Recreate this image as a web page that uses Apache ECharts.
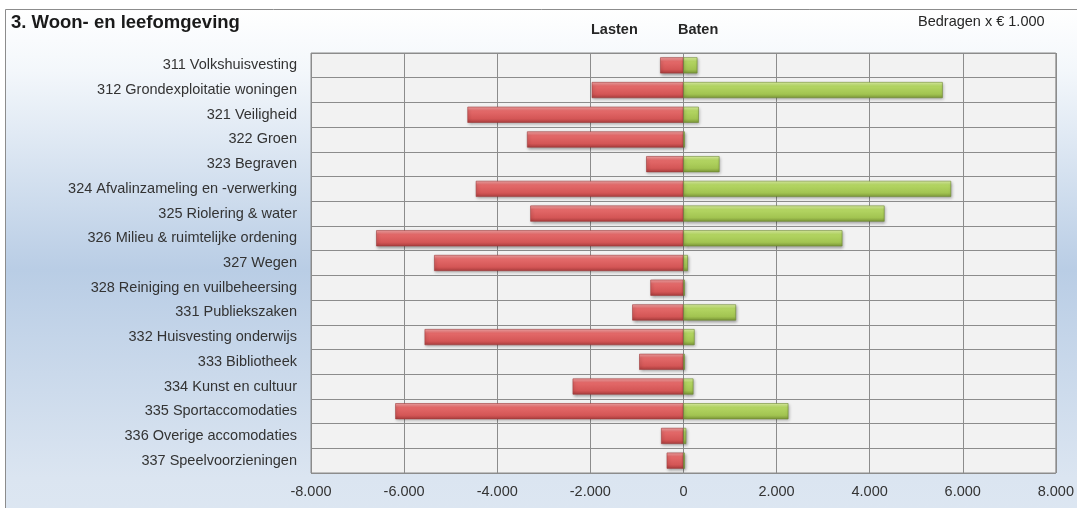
<!DOCTYPE html>
<html>
<head>
<meta charset="utf-8">
<script src="https://cdn.jsdelivr.net/npm/echarts@6/dist/echarts.min.js"></script>
<style>
  html, body { margin: 0; padding: 0; background: #fff; }
  #chart { width: 1077px; height: 508px; }
</style>
</head>
<body>
<div id="chart"></div>
<script>
// categorieën (van boven naar beneden)
const categories = [
  "311 Volkshuisvesting",
  "312 Grondexploitatie woningen",
  "321 Veiligheid",
  "322 Groen",
  "323 Begraven",
  "324 Afvalinzameling en -verwerking",
  "325 Riolering & water",
  "326 Milieu & ruimtelijke ordening",
  "327 Wegen",
  "328 Reiniging en vuilbeheersing",
  "331 Publiekszaken",
  "332 Huisvesting onderwijs",
  "333 Bibliotheek",
  "334 Kunst en cultuur",
  "335 Sportaccomodaties",
  "336 Overige accomodaties",
  "337 Speelvoorzieningen"
];

// lasten (negatief) en baten, bedragen x € 1.000
const lasten = [-500, -1970, -4640, -3360, -800, -4460, -3290, -6600, -5355, -710, -1100, -5560, -950, -2380, -6190, -480, -360];
const baten = [300, 5570, 330, 30, 775, 5750, 4320, 3415, 95, 30, 1130, 240, 30, 215, 2255, 60, 30];

const xTicks = { min: -8000, max: 8000, interval: 2000 };

const chart = echarts.init(document.getElementById("chart"));

// getal met punt als duizendtalscheiding
const fmt = (v) => {
  const s = Math.abs(v).toString().replace(/\B(?=(\d{3})+(?!\d))/g, ".");
  return (v < 0 ? "-" : "") + s;
};

const barGrad = (top, mid, low, bottom) =>
  new echarts.graphic.LinearGradient(0, 0, 0, 1, [
    { offset: 0, color: top },
    { offset: 0.25, color: mid },
    { offset: 0.75, color: low },
    { offset: 1, color: bottom }
  ]);

const font = "'Liberation Sans', Arial, sans-serif";

chart.setOption({
  animation: false,
  textStyle: { fontFamily: font },
  graphic: [
    {
      type: "rect",
      z: -10,
      shape: { x: 5.5, y: 9.5, width: 1090, height: 520 },
      style: {
        fill: new echarts.graphic.LinearGradient(0, 0, 0, 1, [
          { offset: 0, color: "#ffffff" },
          { offset: 0.12, color: "#f3f7fb" },
          { offset: 0.5, color: "#b9cde5" },
          { offset: 0.9, color: "#dbe5f1" },
          { offset: 1, color: "#dde7f2" }
        ]),
        stroke: "#8c8c8c",
        lineWidth: 1
      }
    },
    {
      type: "text",
      left: 11,
      top: 13,
      style: { text: "3. Woon- en leefomgeving", font: "bold 18.5px " + font, fill: "#1a1a1a" }
    },
    {
      type: "text",
      left: 591,
      top: 22,
      style: { text: "Lasten", font: "bold 14.5px " + font, fill: "#262626" }
    },
    {
      type: "text",
      left: 678,
      top: 22,
      style: { text: "Baten", font: "bold 14.5px " + font, fill: "#262626" }
    },
    {
      type: "text",
      left: 918,
      top: 14,
      style: { text: "Bedragen x € 1.000", font: "14.5px " + font, fill: "#262626" }
    }
  ],
  grid: {
    left: 311,
    right: 21,
    top: 53,
    bottom: 35,
    show: true,
    backgroundColor: "#f2f2f2",
    borderColor: "#8c8c8c",
    borderWidth: 1
  },
  xAxis: {
    type: "value",
    min: xTicks.min,
    max: xTicks.max,
    interval: xTicks.interval,
    axisLine: { show: false },
    axisTick: { show: false },
    axisLabel: { color: "#333", fontSize: 14.5, margin: 11, formatter: fmt },
    splitLine: { lineStyle: { color: "#8c8c8c", width: 1 } }
  },
  yAxis: {
    type: "category",
    data: categories,
    inverse: true,
    axisLine: { show: false },
    axisTick: { show: false },
    axisLabel: { color: "#333", fontSize: 14.5, margin: 14 },
    splitLine: { show: true, lineStyle: { color: "#8c8c8c", width: 1 } }
  },
  series: [
    {
      name: "Lasten",
      type: "bar",
      data: lasten,
      barWidth: "65%",
      barGap: "-100%",
      itemStyle: {
        color: barGrad("#f7a8a8", "#e46a6a", "#d45656", "#a93d3d"),
        borderColor: "#9e3a3a",
        borderWidth: 0.6,
        shadowColor: "rgba(0,0,0,0.35)",
        shadowBlur: 3,
        shadowOffsetX: 1,
        shadowOffsetY: 1.5
      }
    },
    {
      name: "Baten",
      type: "bar",
      data: baten,
      barWidth: "65%",
      itemStyle: {
        color: barGrad("#e4f8a8", "#b4d663", "#a2c451", "#7b9638"),
        borderColor: "#6f8a33",
        borderWidth: 0.6,
        shadowColor: "rgba(0,0,0,0.35)",
        shadowBlur: 3,
        shadowOffsetX: 1,
        shadowOffsetY: 1.5
      }
    }
  ]
});
</script>
</body>
</html>
